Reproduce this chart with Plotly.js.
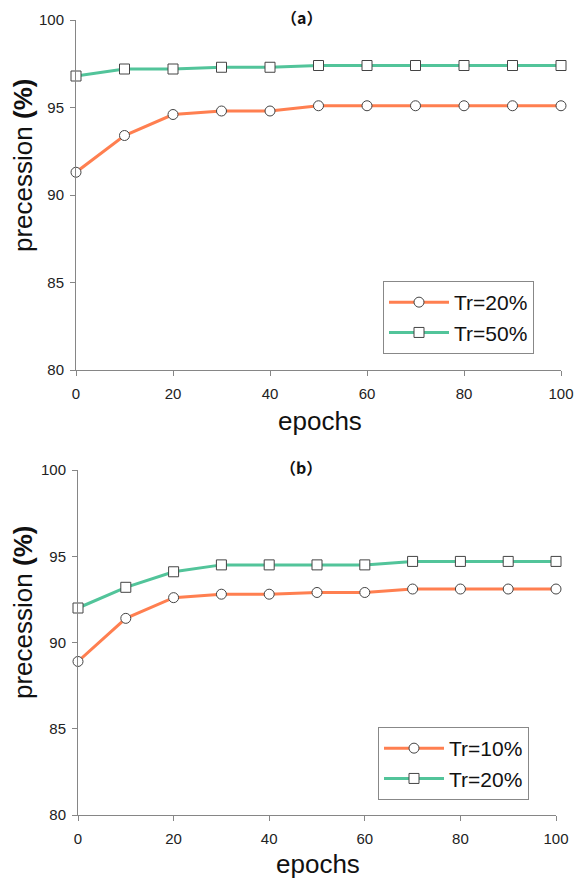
<!DOCTYPE html>
<html>
<head>
<meta charset="utf-8">
<script src="https://cdn.plot.ly/plotly-3.0.1.min.js"></script>
<style>html,body{margin:0;padding:0;background:#fff;}#chart{width:576px;height:878px;}</style>
</head>
<body>
<div id="chart"></div>
<script>
const epochs = [0, 10, 20, 30, 40, 50, 60, 70, 80, 90, 100];
const aTr20 = [91.3, 93.4, 94.6, 94.8, 94.8, 95.1, 95.1, 95.1, 95.1, 95.1, 95.1];
const aTr50 = [96.8, 97.2, 97.2, 97.3, 97.3, 97.4, 97.4, 97.4, 97.4, 97.4, 97.4];
const bTr10 = [88.9, 91.4, 92.6, 92.8, 92.8, 92.9, 92.9, 93.1, 93.1, 93.1, 93.1];
const bTr20 = [92.0, 93.2, 94.1, 94.5, 94.5, 94.5, 94.5, 94.7, 94.7, 94.7, 94.7];
const xTicks = [0, 20, 40, 60, 80, 100];
const yTicks = [80, 85, 90, 95, 100];
const namesA = ['Tr=20%', 'Tr=50%'];
const namesB = ['Tr=10%', 'Tr=20%'];

const ORANGE = '#FF7F50', GREEN = '#52C49A';
const W = 576, H = 878;
const FONT = 'Liberation Sans, Arial, sans-serif';

function tr(x, y, name, color, sym, xa, ya, lg) {
  return {
    x: x, y: y, name: name, type: 'scatter', mode: 'lines+markers',
    xaxis: xa, yaxis: ya, legend: lg, cliponaxis: false,
    line: {color: color, width: 3},
    marker: {symbol: sym, size: 10, color: '#ffffff', line: {color: '#444444', width: 1}}
  };
}

const data = [
  tr(epochs, aTr20, namesA[0], ORANGE, 'circle', 'x', 'y', 'legend'),
  tr(epochs, aTr50, namesA[1], GREEN, 'square', 'x', 'y', 'legend'),
  tr(epochs, bTr10, namesB[0], ORANGE, 'circle', 'x2', 'y2', 'legend2'),
  tr(epochs, bTr20, namesB[1], GREEN, 'square', 'x2', 'y2', 'legend2')
];

function xax(d, anchor) {
  return {
    domain: d, anchor: anchor, range: [0, 100], tickvals: xTicks,
    showline: true, linecolor: '#868686', linewidth: 1,
    ticks: 'outside', ticklen: 5, tickcolor: '#868686',
    ticklabelstandoff: 5,
    showgrid: false, zeroline: false, automargin: false,
    tickfont: {family: FONT, size: 15, color: '#222'}
  };
}
function yax(d, anchor) {
  return {
    domain: d, anchor: anchor, range: [80, 100], tickvals: yTicks,
    showline: true, linecolor: '#868686', linewidth: 1,
    ticks: 'outside', ticklen: 5, tickcolor: '#868686',
    ticklabelstandoff: 3,
    showgrid: false, zeroline: false, automargin: false,
    tickfont: {family: FONT, size: 15, color: '#222'}
  };
}
function leg(x, y) {
  return {
    x: x, y: y, xanchor: 'left', yanchor: 'top',
    bgcolor: '#ffffff', bordercolor: '#888888', borderwidth: 1,
    font: {family: FONT, size: 21, color: '#111'},
    itemwidth: 60, tracegroupgap: 0
  };
}

const titleFont = {family: '"Noto Sans CJK JP", "Noto Sans CJK SC", sans-serif', size: 16, color: '#111'};
const axFont = {family: FONT, size: 26, color: '#111'};

const layout = {
  width: W, height: H,
  margin: {l: 0, r: 0, t: 0, b: 0},
  paper_bgcolor: '#ffffff', plot_bgcolor: '#ffffff',
  showlegend: true,
  xaxis: xax([76 / W, 561 / W], 'y'),
  yaxis: yax([1 - 370 / H, 1 - 20 / H], 'x'),
  xaxis2: xax([78 / W, 556 / W], 'y2'),
  yaxis2: yax([1 - 815 / H, 1 - 470 / H], 'x2'),
  legend: leg(383 / W, 1 - 281 / H),
  legend2: leg(378 / W, 1 - 727 / H),
  annotations: [
    {text: '<b>（a）</b>', x: 301 / W, y: 1 - 17 / H, xref: 'paper', yref: 'paper', showarrow: false, font: titleFont, xanchor: 'center', yanchor: 'middle'},
    {text: '<b>（b）</b>', x: 301 / W, y: 1 - 467 / H, xref: 'paper', yref: 'paper', showarrow: false, font: titleFont, xanchor: 'center', yanchor: 'middle'},
    {text: 'epochs', x: 320 / W, y: 1 - 421 / H, xref: 'paper', yref: 'paper', showarrow: false, font: axFont, xanchor: 'center', yanchor: 'middle'},
    {text: 'epochs', x: 318 / W, y: 1 - 864 / H, xref: 'paper', yref: 'paper', showarrow: false, font: axFont, xanchor: 'center', yanchor: 'middle'},
    {text: 'precession <b>(%)</b>', x: 23 / W, y: 1 - 166 / H, xref: 'paper', yref: 'paper', showarrow: false, font: axFont, textangle: -90, xanchor: 'center', yanchor: 'middle'},
    {text: 'precession <b>(%)</b>', x: 23 / W, y: 1 - 613 / H, xref: 'paper', yref: 'paper', showarrow: false, font: axFont, textangle: -90, xanchor: 'center', yanchor: 'middle'}
  ]
};

Plotly.newPlot('chart', data, layout, {displayModeBar: false, staticPlot: true});
</script>
</body>
</html>
